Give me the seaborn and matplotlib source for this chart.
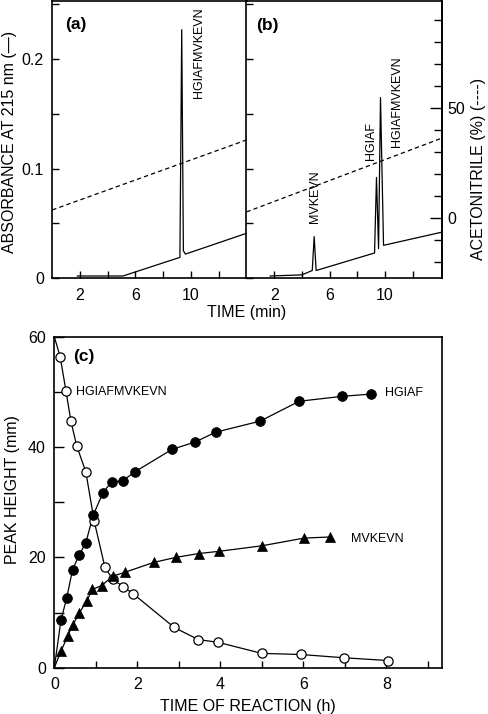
import matplotlib
matplotlib.use("Agg")
from matplotlib import pyplot as plt
from matplotlib.ticker import FixedLocator
import seaborn as sns

# ---- chromatogram (a): substrate before reaction ----
time_a = [1.8, 5.1, 9.2, 9.33, 9.45, 9.6, 14.0]
abs_a = [0.002, 0.002, 0.019, 0.227, 0.025, 0.022, 0.041]
grad_time_a = [0.0, 14.0]
grad_acn_a = [3.8, 35.6]

# ---- chromatogram (b): after cleavage ----
time_b = [1.7, 4.0, 4.75, 4.89, 5.03, 9.25, 9.39, 9.54, 9.68, 9.9, 14.1]
abs_b = [0.002, 0.003, 0.007, 0.038, 0.007, 0.023, 0.092, 0.027, 0.165, 0.030, 0.042]
grad_time_b = [0.0, 14.1]
grad_acn_b = [2.9, 36.4]

# peak labels (name, time, anchor in absorbance units)
peaks_a = [("HGIAFMVKEVN", 10.6, 0.247)]
peaks_b = [("MVKEVN", 4.94, 0.050), ("HGIAF", 8.97, 0.108), ("HGIAFMVKEVN", 10.84, 0.120)]

# ---- (c) time course of peak heights ----
t_sub = [0.14, 0.28, 0.40, 0.54, 0.76, 0.96, 1.22, 1.41, 1.66, 1.90, 2.89, 3.47, 3.95, 5.00, 5.94, 6.99, 8.05]
h_sub = [56.4, 50.2, 44.7, 40.2, 35.5, 26.6, 18.2, 16.0, 14.7, 13.4, 7.3, 5.1, 4.6, 2.6, 2.4, 1.8, 1.3]
t_hgiaf = [0.16, 0.30, 0.44, 0.60, 0.76, 0.94, 1.17, 1.38, 1.65, 1.94, 2.84, 3.39, 3.89, 4.96, 5.90, 6.94, 7.63]
h_hgiaf = [8.6, 12.7, 17.8, 20.4, 22.7, 27.7, 31.7, 33.7, 33.9, 35.5, 39.6, 40.9, 42.7, 44.7, 48.3, 49.2, 49.6]
t_mvkevn = [0.16, 0.32, 0.44, 0.60, 0.78, 0.92, 1.14, 1.41, 1.70, 2.40, 2.93, 3.48, 3.97, 5.00, 6.02, 6.64]
h_mvkevn = [3.0, 5.7, 7.7, 9.9, 12.1, 14.2, 14.9, 16.6, 17.3, 19.1, 20.0, 20.7, 21.1, 22.1, 23.5, 23.7]
# curves start at t = 0
sub_start = 60.0
prod_start = 0.0

series_labels = [("HGIAFMVKEVN", 0.52, 50.0), ("HGIAF", 7.97, 49.8), ("MVKEVN", 7.14, 23.3)]

sns.set_theme(style="ticks", rc={
    "axes.edgecolor": "black", "axes.linewidth": 1.2,
    "xtick.color": "black", "ytick.color": "black",
    "xtick.direction": "in", "ytick.direction": "in",
    "xtick.major.size": 5, "ytick.major.size": 6,
    "xtick.minor.size": 5, "ytick.minor.size": 5,
    "xtick.major.width": 1.0, "ytick.major.width": 1.0,
    "xtick.minor.width": 1.0, "ytick.minor.width": 1.0,
    "xtick.labelsize": 11.5, "ytick.labelsize": 11.5,
    "text.color": "black",
})
plt.rcParams["font.family"] = ["Liberation Sans", "DejaVu Sans"]

fig = plt.figure(figsize=(4.88, 7.14), dpi=100)
ax_a = fig.add_axes([0.1070, 0.6104, 0.3982, 0.3875])
ax_b = fig.add_axes([0.5051, 0.6104, 0.4000, 0.3875])
ax_c = fig.add_axes([0.1113, 0.0648, 0.7951, 0.4636])

abs_lim = (0, 0.2527)
acn_lim = (-27.2, 98.5)
lw = 0.9
dash = (0, (3.5, 2.5))

for ax, t, a, gt, ga, xmax in [(ax_a, time_a, abs_a, grad_time_a, grad_acn_a, 14.0),
                               (ax_b, time_b, abs_b, grad_time_b, grad_acn_b, 14.1)]:
    sns.lineplot(x=t, y=a, sort=False, estimator=None, color="black", lw=lw, ax=ax)
    ax.set_xlim(0, xmax)
    ax.set_ylim(*abs_lim)
    ax.xaxis.set_major_locator(FixedLocator([2, 6, 10]))
    ax.xaxis.set_minor_locator(FixedLocator([4, 8, 12]))
    ax.set_xticklabels(["2", "6", "10"])
    ax.yaxis.set_major_locator(FixedLocator([0, 0.1, 0.2]))
    ax.yaxis.set_minor_locator(FixedLocator([0.05, 0.15, 0.25]))
    ax.tick_params(axis="x", which="both", pad=7)
    ax.tick_params(axis="y", which="both", length=5, right=(ax is ax_a), pad=6)
    twin = ax.twinx()
    sns.lineplot(x=gt, y=ga, sort=False, estimator=None, color="black", lw=lw,
                 linestyle=dash, ax=twin)
    twin.set_ylim(*acn_lim)
    twin.set_xlim(0, xmax)
    twin.set_ylabel("")
    for side in ["left", "top", "bottom"]:
        twin.spines[side].set_visible(False)
    if ax is ax_a:
        twin.spines["right"].set_visible(False)
        twin.tick_params(axis="y", right=False, labelright=False)
    else:
        twin.yaxis.set_major_locator(FixedLocator([0, 50]))
        twin.yaxis.set_minor_locator(FixedLocator([-20, -10, 10, 20, 30, 40, 60, 70, 80, 90]))
        twin.set_yticklabels(["0", "50"])
        twin.tick_params(axis="y", which="major", length=9, pad=4)
        twin.tick_params(axis="y", which="minor", length=6)

ax_a.set_yticklabels(["0", "0.1", "0.2"])
ax_b.tick_params(axis="y", labelleft=False)
# shared border between (a) and (b) is drawn by (b), which lies on top
ax_a.spines["right"].set_visible(False)
ax_b.patch.set_alpha(0)

for name, t, y in peaks_a:
    ax_a.text(t, y, name, rotation=90, ha="center", va="top", fontsize=9)
for name, t, y in peaks_b:
    ax_b.text(t, y, name, rotation=90, ha="center", va="bottom", fontsize=9)

ax_a.text(0.92, 0.232, "(a)", fontsize=12.5, fontweight="bold", va="center")
ax_b.text(0.73, 0.231, "(b)", fontsize=12.5, fontweight="bold", va="center")

# ---- panel (c) ----
sns.lineplot(x=[0.0] + t_sub, y=[sub_start] + h_sub, sort=False, estimator=None,
             color="black", lw=lw, ax=ax_c)
sns.lineplot(x=[0.0] + t_hgiaf, y=[prod_start] + h_hgiaf, sort=False, estimator=None,
             color="black", lw=lw, ax=ax_c)
sns.lineplot(x=[0.0] + t_mvkevn, y=[prod_start] + h_mvkevn, sort=False, estimator=None,
             color="black", lw=lw, ax=ax_c)
sns.scatterplot(x=t_sub, y=h_sub, marker="o", s=44, facecolor="white",
                edgecolor="black", linewidth=0.9, zorder=3, ax=ax_c)
sns.scatterplot(x=t_hgiaf, y=h_hgiaf, marker="o", s=50, facecolor="black",
                edgecolor="black", linewidth=0.5, zorder=3, ax=ax_c)
sns.scatterplot(x=t_mvkevn, y=h_mvkevn, marker="^", s=52, facecolor="black",
                edgecolor="black", linewidth=0.5, zorder=3, ax=ax_c)

ax_c.set_xlim(0, 9.35)
ax_c.set_ylim(0, 60)
ax_c.xaxis.set_major_locator(FixedLocator([0, 2, 4, 6, 8]))
ax_c.xaxis.set_minor_locator(FixedLocator([1, 3, 5, 7, 9]))
ax_c.yaxis.set_major_locator(FixedLocator([0, 20, 40, 60]))
ax_c.yaxis.set_minor_locator(FixedLocator([10, 30, 50]))
ax_c.tick_params(axis="x", which="both", length=5, pad=7)
ax_c.tick_params(axis="y", which="both", length=7, pad=6)

for name, t, y in series_labels:
    ax_c.text(t, y, name, ha="left", va="center", fontsize=9)
ax_c.text(0.46, 56.5, "(c)", fontsize=12.5, fontweight="bold", va="center")

# axis titles
fig.text(10 / 488, 1 - 141.5 / 714, "ABSORBANCE AT 215 nm (—)", rotation=90,
         ha="center", va="center", fontsize=11.5)
fig.text(479 / 488, 1 - 169 / 714, "ACETONITRILE (%) (----)", rotation=90,
         ha="center", va="center", fontsize=11.5)
fig.text(247 / 488, 1 - 313 / 714, "TIME (min)", ha="center", va="center", fontsize=11.5)
fig.text(12.5 / 488, 1 - 490 / 714, "PEAK HEIGHT (mm)", rotation=90,
         ha="center", va="center", fontsize=11.5)
fig.text(248 / 488, 1 - 706 / 714, "TIME OF REACTION (h)", ha="center", va="center",
         fontsize=11.5)

fig.savefig("out.png", dpi=100)
